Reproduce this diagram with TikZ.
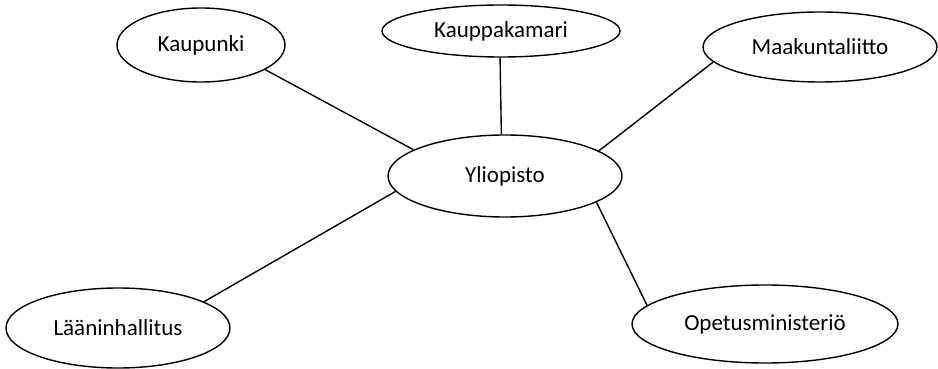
\documentclass[tikz,border=0pt]{standalone}
\usepackage{fontspec}
\setmainfont{Carlito}
\usetikzlibrary{shapes.geometric}

\tikzset{
  blob/.style={draw, ellipse, inner sep=0pt, line width=0.7pt,
    font=\fontsize{11.5}{14}\selectfont},
  link/.style={line width=0.7pt}
}

\begin{document}
\begin{tikzpicture}[x=0.5pt,y=-0.5pt]
    \useasboundingbox (0,0) rectangle (938,369);

\node[blob, minimum width=84pt, minimum height=37pt] (kaupunki) at (201,45) {Kaupunki};
\node[blob, minimum width=119pt, minimum height=26pt] (kauppakamari) at (501,31) {Kauppakamari};
\node[blob, minimum width=117pt, minimum height=35pt] (maakunta) at (820,47) {Maakuntaliitto};

\node[blob, minimum width=117pt, minimum height=41pt] (yliopisto) at (505,176) {Yliopisto};

\node[blob, minimum width=112pt, minimum height=40pt] (laani) at (118,328) {Lääninhallitus};
\node[blob, minimum width=133pt, minimum height=39pt] (opetus) at (765,324) {Opetusministeriö};

% yhteydet
\draw[link] (kaupunki.-21) -- (yliopisto.164);
\draw[link] (kauppakamari.-92) -- (yliopisto.95);
\draw[link] (maakunta.-172) -- (yliopisto.15);
\draw[link] (laani.17) -- (yliopisto.-172);
\draw[link] (opetus.171) -- (yliopisto.-16);

\end{tikzpicture}
\end{document}
